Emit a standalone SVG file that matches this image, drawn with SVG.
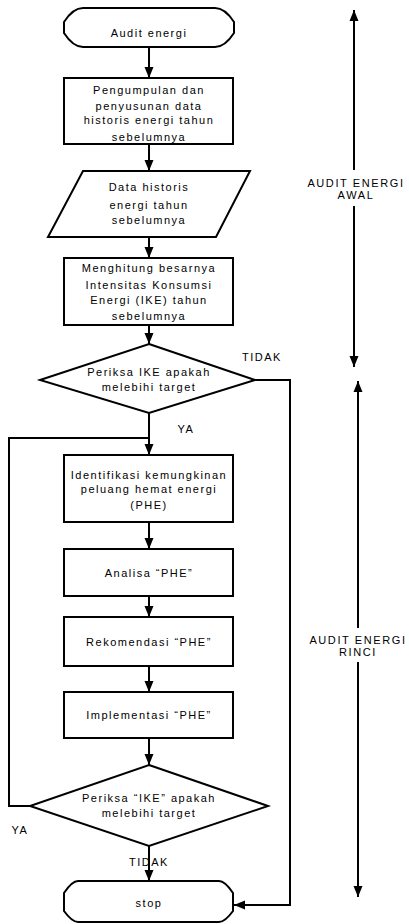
<svg xmlns="http://www.w3.org/2000/svg" width="409" height="924" viewBox="0 0 409 924">
<style>
.s{fill:#fff;stroke:#000;stroke-width:2}
.c{fill:none;stroke:#000;stroke-width:2}
text{font-family:"Liberation Sans",Arial,sans-serif;font-size:11px;letter-spacing:1.5px;fill:#000;text-anchor:middle}
.lb{font-size:11px;letter-spacing:1.6px}
</style>
<defs>
<marker id="ah" markerUnits="userSpaceOnUse" markerWidth="11" markerHeight="10" viewBox="0 0 11 10" refX="11" refY="5" orient="auto-start-reverse">
<path d="M0,0.5 L11,5 L0,9.5 Z" fill="#000"/>
</marker>
</defs>
<g id="connectors">
<path class="c" d="M149,47 V78" marker-end="url(#ah)"/>
<path class="c" d="M149,144 V171" marker-end="url(#ah)"/>
<path class="c" d="M149,237 V258" marker-end="url(#ah)"/>
<path class="c" d="M149,325 V344" marker-end="url(#ah)"/>
<path class="c" d="M149,413 V455" marker-end="url(#ah)"/>
<path class="c" d="M30,806 H9 V438 H149"/>
<path class="c" d="M255,380 H290 V905 H234" marker-end="url(#ah)"/>
<path class="c" d="M149,522 V549" marker-end="url(#ah)"/>
<path class="c" d="M149,596 V617" marker-end="url(#ah)"/>
<path class="c" d="M149,666 V692" marker-end="url(#ah)"/>
<path class="c" d="M149,738 V765" marker-end="url(#ah)"/>
<path class="c" d="M149,846 V881" marker-end="url(#ah)"/>
<path class="c" d="M354,170 V10" marker-end="url(#ah)"/>
<path class="c" d="M354,206 V367" marker-end="url(#ah)"/>
<path class="c" d="M358,628 V381" marker-end="url(#ah)"/>
<path class="c" d="M358,662 V897" marker-end="url(#ah)"/>
<text x="262" y="361">TIDAK</text>
<text x="186" y="433">YA</text>
<text x="20" y="834">YA</text>
<text x="149" y="866">TIDAK</text>
<text class="lb" x="356" y="187">AUDIT ENERGI</text>
<text class="lb" x="356" y="199">AWAL</text>
<text class="lb" x="358" y="644">AUDIT ENERGI</text>
<text class="lb" x="358" y="656">RINCI</text>
</g>
<g id="start">
<path class="s" d="M83,8 H215 Q225,8 234,22 V33 Q225,47 215,47 H83 Q73,47 64,33 V22 Q73,8 83,8 Z"/>
<text x="149" y="37">Audit energi</text>
</g>
<g id="pengumpulan">
<rect class="s" x="64" y="78" width="169" height="66"/>
<text x="149" y="94">Pengumpulan dan</text>
<text x="149" y="110">penyusunan data</text>
<text x="149" y="124">historis energi tahun</text>
<text x="149" y="141">sebelumnya</text>
</g>
<g id="data">
<path class="s" d="M83,171 H250 L216,237 H48 Z"/>
<text x="149" y="191">Data historis</text>
<text x="149" y="209">energi tahun</text>
<text x="149" y="224">sebelumnya</text>
</g>
<g id="hitung">
<rect class="s" x="64" y="258" width="169" height="67"/>
<text x="149" y="272">Menghitung besarnya</text>
<text x="149" y="289">Intensitas Konsumsi</text>
<text x="149" y="304">Energi (IKE) tahun</text>
<text x="149" y="320">sebelumnya</text>
</g>
<g id="periksa1">
<path class="s" d="M149,344 L255,380 L149,413 L40,380 Z"/>
<text x="149" y="376">Periksa IKE apakah</text>
<text x="149" y="391">melebihi target</text>
</g>
<g id="identifikasi">
<rect class="s" x="64" y="455" width="169" height="67"/>
<text x="149" y="479">Identifikasi kemungkinan</text>
<text x="149" y="493">peluang hemat energi</text>
<text x="149" y="509">(PHE)</text>
</g>
<g id="analisa">
<rect class="s" x="64" y="549" width="169" height="47"/>
<text x="149" y="577">Analisa “PHE”</text>
</g>
<g id="rekomendasi">
<rect class="s" x="64" y="617" width="169" height="49"/>
<text x="149" y="646">Rekomendasi “PHE”</text>
</g>
<g id="implementasi">
<rect class="s" x="64" y="692" width="169" height="46"/>
<text x="149" y="719">Implementasi “PHE”</text>
</g>
<g id="periksa2">
<path class="s" d="M149,765 L268,806 L149,846 L30,806 Z"/>
<text x="149" y="802">Periksa “IKE” apakah</text>
<text x="149" y="817">melebihi target</text>
</g>
<g id="stop">
<path class="s" d="M78,881 H219 Q225,881 233,893 V911 Q225,922 219,922 H78 Q72,922 64,911 V893 Q72,881 78,881 Z"/>
<text x="149" y="907">stop</text>
</g>
</svg>
